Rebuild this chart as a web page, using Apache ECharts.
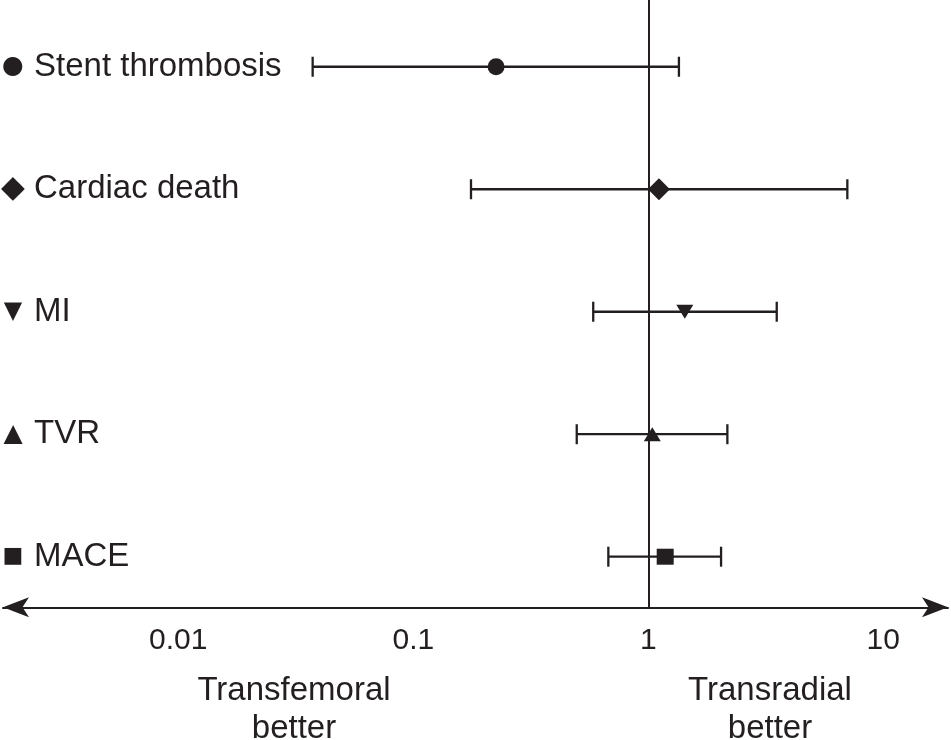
<!DOCTYPE html>
<html>
<head>
<meta charset="utf-8">
<script src="https://cdn.jsdelivr.net/npm/echarts@6/dist/echarts.min.js"></script>
<style>
html,body{margin:0;padding:0;background:#fff;}
#chart{width:951px;height:740px;}
</style>
</head>
<body>
<div id="chart"></div>
<script>
// ---- data ----
const outcomes  = ['Stent thrombosis', 'Cardiac death', 'MI', 'TVR', 'MACE'];
const estimates = [0.225, 1.11, 1.43, 1.04, 1.18];
const lowerCI   = [0.0373, 0.176, 0.583, 0.496, 0.676];
const upperCI   = [1.35, 7.03, 3.52, 2.17, 2.04];
const tickValues = [0.01, 0.1, 1, 10];
const tickLabels = ['0.01', '0.1', '1', '10'];
const leftNote  = 'Transfemoral\nbetter';
const rightNote = 'Transradial\nbetter';

// ---- styles ----
const ink = '#231f20';
const FONT = '"Liberation Sans", Arial, Helvetica, sans-serif';
const markerShapes = ['circle', 'diamond', 'triangle', 'triangle', 'rect'];
const markerRotate = [0, 0, 180, 0, 0];
const markerSizes  = [[17, 17], [22, 22], [17, 14], [17, 14], [17, 16]];
const glyphs       = ['\u25CF', '\u25C6', '\u25BC', '\u25B2', '\u25A0'];
const glyphSizes   = [25, 31, 24, 25, 22];

const n = outcomes.length;
const rowPos = i => n - i;   // top row highest

const pointData = estimates.map((v, i) => ({
  value: [v, rowPos(i)],
  symbol: markerShapes[i],
  symbolSize: markerSizes[i],
  symbolRotate: markerRotate[i]
}));
const barData = lowerCI.map((lo, i) => [lo, upperCI[i], rowPos(i)]);

const rich = { name: { fontSize: 33, fontFamily: FONT, color: ink, padding: [0, 0, 0, 10] } };
glyphs.forEach((g, i) => {
  rich['s' + i] = { fontSize: glyphSizes[i], fontFamily: '"DejaVu Sans", sans-serif', color: ink, width: 22, align: 'center' };
});

const chart = echarts.init(document.getElementById('chart'), null, { renderer: 'canvas' });
chart.setOption({
  animation: false,
  backgroundColor: '#fff',
  grid: { left: 3, right: 3, top: 0, bottom: 132.7, containLabel: false, outerBoundsMode: 'none' },
  xAxis: {
    type: 'log',
    logBase: 10,
    min: 0.001795,
    max: 18.85,
    axisLine: {
      show: true,
      symbol: ['arrow', 'arrow'],
      symbolSize: [15, 26],
      lineStyle: { color: ink, width: 2 }
    },
    axisTick: { show: false },
    splitLine: { show: false },
    minorTick: { show: false },
    axisLabel: {
      show: true,
      margin: 18,
      fontSize: 30,
      fontFamily: FONT,
      color: ink,
      showMinLabel: true,
      showMaxLabel: true,
      hideOverlap: false,
      formatter: function (v) {
        for (let k = 0; k < tickValues.length; k++) {
          if (Math.abs(Math.log10(v) - Math.log10(tickValues[k])) < 1e-6) return tickLabels[k];
        }
        return '';
      }
    }
  },
  yAxis: {
    type: 'value',
    min: 0.587,
    max: 5.545,
    offset: 1,
    axisLine: { show: false },
    axisTick: { show: false },
    splitLine: { show: false },
    axisLabel: {
      show: true,
      inside: true,
      margin: 0,
      showMinLabel: true,
      showMaxLabel: true,
      formatter: function (v) {
        const r = Math.round(v);
        if (Math.abs(v - r) > 1e-6) return '';
        const i = n - r;
        if (i < 0 || i >= n) return '';
        return '{s' + i + '|' + glyphs[i] + '}{name|' + outcomes[i] + '}';
      },
      rich: rich
    }
  },
  graphic: [
    {
      type: 'text',
      x: 294, y: 672,
      style: { text: leftNote, fontSize: 33, fontFamily: FONT, fill: ink, align: 'center', textAlign: 'center', lineHeight: 38 }
    },
    {
      type: 'text',
      x: 770, y: 672,
      style: { text: rightNote, fontSize: 33, fontFamily: FONT, fill: ink, align: 'center', textAlign: 'center', lineHeight: 38 }
    }
  ],
  series: [
    {
      type: 'custom',
      name: 'CI',
      z: 2,
      data: barData,
      encode: { x: [0, 1], y: 2 },
      renderItem: function (params, api) {
        const y = api.value(2);
        const p1 = api.coord([api.value(0), y]);
        const p2 = api.coord([api.value(1), y]);
        const cap = 10;
        const st = { stroke: ink, lineWidth: 2.3 };
        return {
          type: 'group',
          children: [
            { type: 'line', shape: { x1: p1[0], y1: p1[1], x2: p2[0], y2: p2[1] }, style: st },
            { type: 'line', shape: { x1: p1[0], y1: p1[1] - cap, x2: p1[0], y2: p1[1] + cap }, style: st },
            { type: 'line', shape: { x1: p2[0], y1: p2[1] - cap, x2: p2[0], y2: p2[1] + cap }, style: st }
          ]
        };
      },
      markLine: {
        silent: true,
        symbol: 'none',
        label: { show: false },
        lineStyle: { color: ink, width: 2, type: 'solid' },
        data: [{ xAxis: 1 }]
      }
    },
    {
      type: 'scatter',
      name: 'Estimate',
      z: 3,
      itemStyle: { color: ink, opacity: 1 },
      data: pointData
    }
  ]
});
</script>
</body>
</html>
